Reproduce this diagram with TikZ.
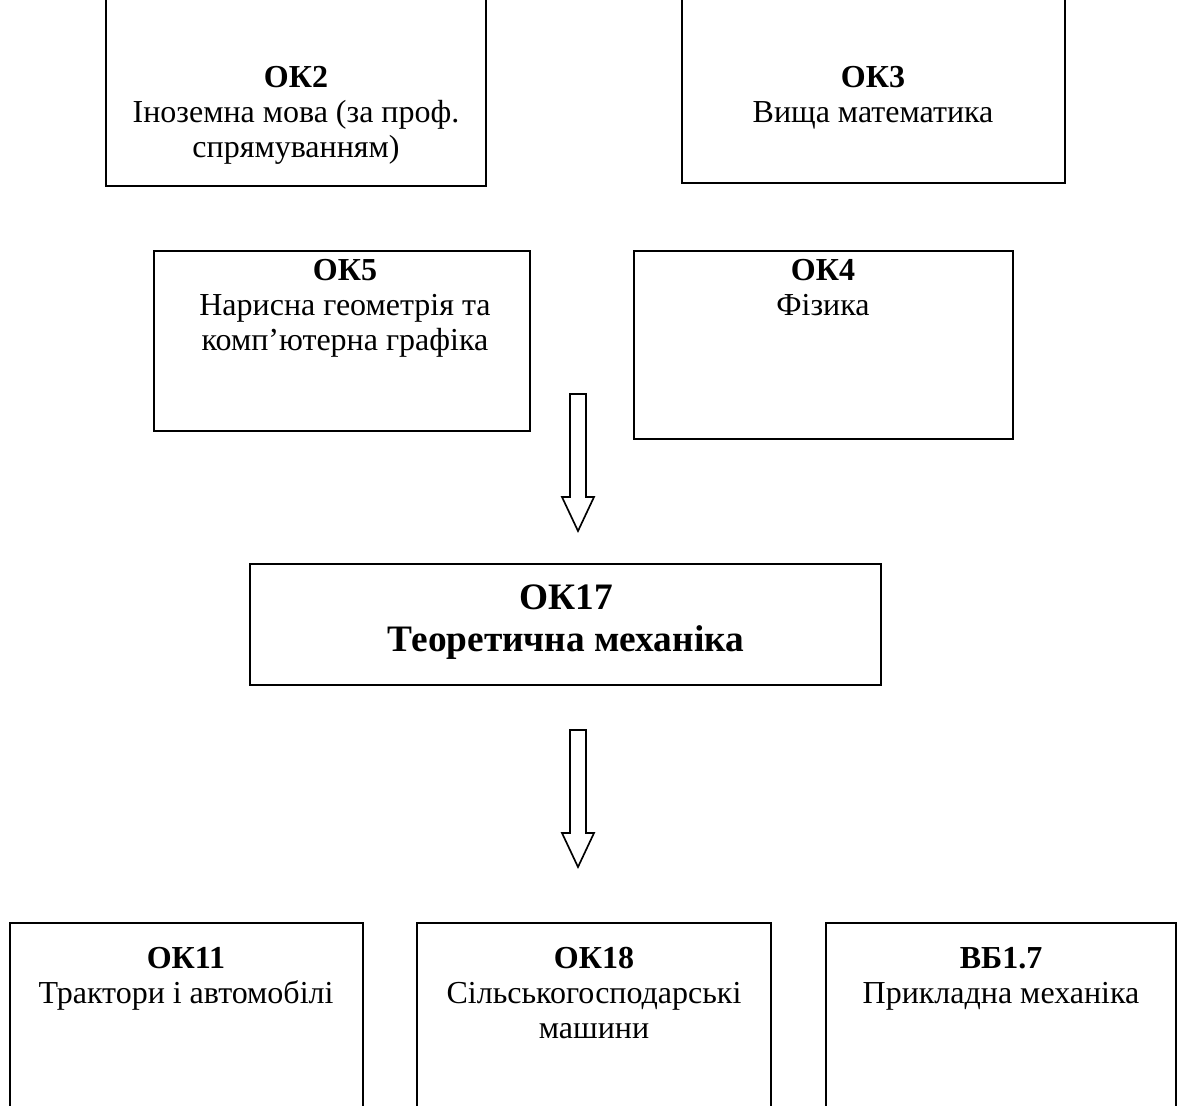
\documentclass[tikz,border=0pt]{standalone}
\usepackage{fontspec}
\setmainfont{Liberation Serif}
\usetikzlibrary{fit}
\tikzset{
  box/.style={draw, line width=1.5, inner sep=0pt},
  txt/.style={anchor=north, align=center, inner sep=0pt, font=\fontsize{24}{26.25}\selectfont},
  bigtxt/.style={anchor=north, align=center, inner sep=0pt, font=\fontsize{28}{31.5}\selectfont\bfseries},
  hollow/.style={draw, line width=1.25, fill=white},
}

\begin{document}
\begin{tikzpicture}[x=0.75pt,y=0.75pt,yscale=-1,xscale=1]
\useasboundingbox (0,0) rectangle (1178,1106);
\clip (0,0) rectangle (1178,1106);

%Boxes
\node [box, fit={(106,-10) (486,186)}] (ok2) {};
\node [box, fit={(682,-10) (1065,183)}] (ok3) {};
\node [box, fit={(154,251) (530,431)}] (ok5) {};
\node [box, fit={(634,251) (1013,439)}] (ok4) {};
\node [box, fit={(250,564) (881,685)}] (ok17) {};
\node [box, fit={(10,923) (363,1120)}] (ok11) {};
\node [box, fit={(417,923) (771,1120)}] (ok18) {};
\node [box, fit={(826,923) (1176,1120)}] (vb17) {};

%Block arrows
\draw [hollow] (570,394) -- (586,394) -- (586,497) -- (594,497) -- (578,531) -- (562,497) -- (570,497) -- cycle ;
\draw [hollow] (570,730) -- (586,730) -- (586,833) -- (594,833) -- (578,867) -- (562,833) -- (570,833) -- cycle ;

% Text Node
\node [txt] (ok2t) at (296,66) {\textbf{ОК2}\\Іноземна мова (за проф.\\спрямуванням)};
% Text Node
\node [txt] (ok3t) at (873,66) {\textbf{ОК3}\\Вища математика};
% Text Node
\node [txt] (ok5t) at (345,259) {\textbf{ОК5}\\Нарисна геометрія та\\комп’ютерна графіка};
% Text Node
\node [txt] (ok4t) at (823,259) {\textbf{ОК4}\\Фізика};
% Text Node
\node [bigtxt] (ok17t) at (566,585) {ОК17\\Теоретична механіка};
% Text Node
\node [txt] (ok11t) at (186,947) {\textbf{ОК11}\\Трактори і автомобілі};
% Text Node
\node [txt] (ok18t) at (594,947) {\textbf{ОК18}\\Сільськогосподарські\\машини};
% Text Node
\node [txt] (vb17t) at (1001,947) {\textbf{ВБ1.7}\\Прикладна механіка};

\end{tikzpicture}
\end{document}
